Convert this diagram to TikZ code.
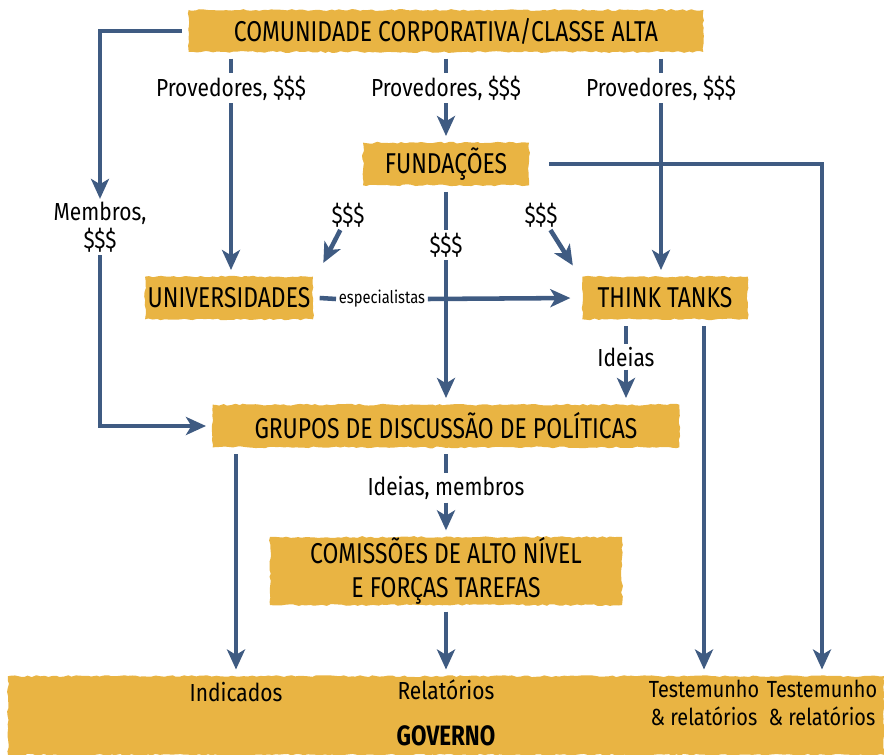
\documentclass[tikz,border=0pt]{standalone}
\usepackage{fontspec}
\setmainfont{Fira Sans}[FakeStretch=0.85]
\newfontfamily\boxfont{Fira Sans}[FakeStretch=0.8]
\usetikzlibrary{arrows.meta,positioning,decorations.pathmorphing}
\definecolor{Mustard}{HTML}{E9B443}
\definecolor{Slate}{HTML}{3F5B82}

\tikzset{
  box/.style={fill=Mustard,inner sep=0pt,outer sep=5pt,align=center,
    font=\boxfont\fontsize{21.5}{25}\selectfont,decorate,
    decoration={random steps,segment length=3pt,amplitude=0.7pt}},
  lbl/.style={inner sep=2pt,align=center,font=\fontsize{18.5}{21}\selectfont},
  flow/.style={draw=Slate,line width=3.4pt,
    -{Stealth[length=15pt,width=13.5pt,inset=4pt]}},
  seg/.style={draw=Slate,line width=3.4pt}
}

\begin{document}
\begin{tikzpicture}[x=0.75pt,y=-0.75pt]
  \pgfmathsetseed{7}
  \useasboundingbox (0,0) rectangle (884,755);
  \clip (0,0) rectangle (884,755);

  % boxes
  \node[box,minimum width=386pt,minimum height=31.5pt] (corp) at (446,31)
    {COMUNIDADE CORPORATIVA/CLASSE ALTA};
  \node[box,minimum width=124.5pt,minimum height=32pt] (fund) at (446,164)
    {FUNDAÇÕES};
  \node[box,minimum width=126pt,minimum height=32pt] (univ) at (229,298)
    {UNIVERSIDADES};
  \node[box,minimum width=124pt,minimum height=32pt] (think) at (665,298)
    {THINK TANKS};
  \node[box,minimum width=350pt,minimum height=32pt] (grupos) at (446,426)
    {GRUPOS DE DISCUSSÃO DE POLÍTICAS};
  \node[box,minimum width=264pt,minimum height=51pt] (comiss) at (446,571)
    {COMISSÕES DE ALTO NÍVEL\\E FORÇAS TAREFAS};
  \node[box,minimum width=657pt,minimum height=59pt] (gov) at (446,715.5) {};

  % labels
  \node[lbl] (prov1) at (231,88) {Provedores, \$\$\$};
  \node[lbl] (prov2) at (446,88) {Provedores, \$\$\$};
  \node[lbl] (prov3) at (661,88) {Provedores, \$\$\$};
  \node[lbl] (memb) at (100,227) {Membros,\\\$\$\$};
  \node[lbl] (dl) at (348,215) {\$\$\$};
  \node[lbl] (dr) at (541,215) {\$\$\$};
  \node[lbl] (dm) at (446,245) {\$\$\$};
  \node[lbl,font=\fontsize{13}{15}\selectfont] (esp) at (382,299) {especialistas};
  \node[lbl] (ideias) at (626,357) {Ideias};
  \node[lbl] (idm) at (446,488) {Ideias, membros};
  \node[lbl] (indic) at (236,692) {Indicados};
  \node[lbl] (relat) at (446,690) {Relatórios};
  \node[lbl,font=\fontsize{17.5}{21}\selectfont] (test1) at (704,703) {Testemunho\\\& relatórios};
  \node[lbl,font=\fontsize{17.5}{21}\selectfont] (test2) at (822,703) {Testemunho\\\& relatórios};
  \node[lbl,font=\boxfont\bfseries\fontsize{21}{24}\selectfont] (govt) at (446,736) {GOVERNO};

  % connectors
  \draw[flow] (corp.west) -| (memb.north);
  \draw[flow] (memb.south) |- (grupos.west);
  \draw[seg] (corp.south -| prov1) -- (prov1.north);
  \draw[flow] (prov1.south) -- (prov1 |- univ.north);
  \draw[seg] (corp.south) -- (prov2.north);
  \draw[flow] (prov2.south) -- (fund.north);
  \draw[seg] (corp.south -| prov3) -- (prov3.north);
  \draw[flow] (prov3.south) -- (prov3 |- think.north);
  \draw[flow,shorten <=10pt] (fund.east) -| (test2 |- gov.north);
  \draw[flow,shorten >=6pt] (dl) -- (univ.north east);
  \draw[flow,shorten >=4pt] (dr) -- (think.north west);
  \draw[seg] (fund.south) -- (dm.north);
  \draw[flow] (dm.south) -- (grupos.north);
  \draw[seg] (univ.east) -- (esp.west);
  \draw[flow,shorten >=4pt] (esp.east) -- (think.west);
  \draw[seg] (think.south -| ideias) -- (ideias.north);
  \draw[flow] (ideias.south) -- (ideias |- grupos.north);
  \draw[flow] (think.south -| test1) -- (test1 |- gov.north);
  \draw[flow] (grupos.south -| indic) -- (indic |- gov.north);
  \draw[seg] (grupos.south) -- (idm.north);
  \draw[flow] (idm.south) -- (comiss.north);
  \draw[flow] (comiss.south) -- (gov.north);
\end{tikzpicture}
\end{document}
